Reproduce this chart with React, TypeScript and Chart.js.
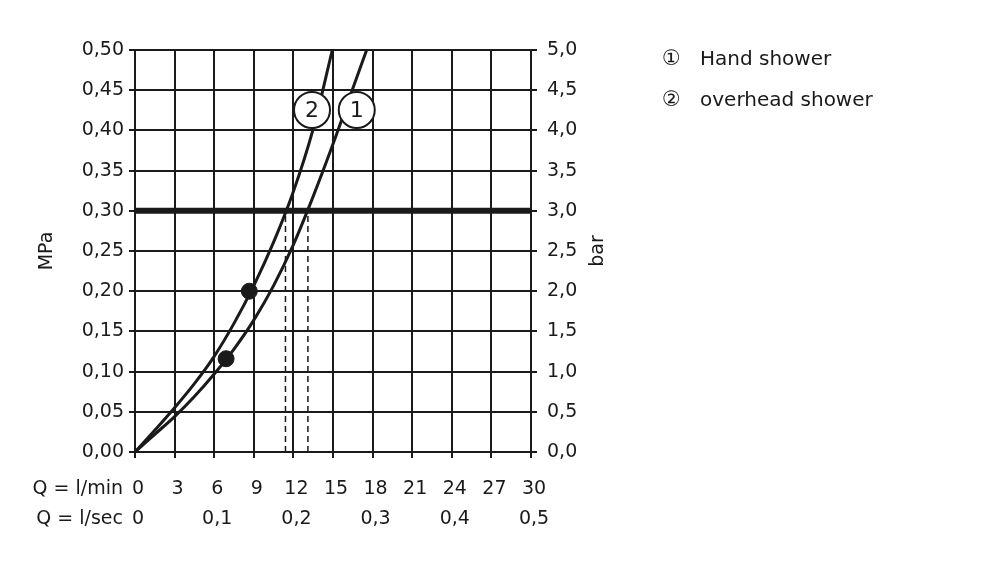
import { useEffect, useRef } from 'react';
import { Chart, registerables } from 'chart.js';

Chart.register(...registerables);

// Hand shower: flow rate (l/min) and pressure (MPa)
const handFlow = [0, 1.5, 3, 4.5, 6, 7.5, 9, 10.5, 12, 13.5, 15, 16.5, 17.55];
const handPressure = [0, 0.022, 0.044, 0.069, 0.097, 0.128, 0.164, 0.207, 0.258, 0.318, 0.383, 0.452, 0.5];

// Overhead shower: flow rate (l/min) and pressure (MPa)
const overheadFlow = [0, 1.5, 3, 4.5, 6, 7.5, 9, 10.5, 12, 13.5, 14.95];
const overheadPressure = [0, 0.027, 0.055, 0.085, 0.119, 0.16, 0.207, 0.261, 0.324, 0.402, 0.5];

// Marked operating points (flow l/min, pressure MPa)
const markFlow = [6.9, 8.66];
const markPressure = [0.116, 0.2];

// Recommended working pressure and the flows reached there
const workingPressure = 0.3;
const workingFlow = [11.4, 13.1];

// Axis ticks
const flowMinTicks = [0, 3, 6, 9, 12, 15, 18, 21, 24, 27, 30];
const flowSecTicks = [0, 0.1, 0.2, 0.3, 0.4, 0.5];
const mpaTicks = [0, 0.05, 0.1, 0.15, 0.2, 0.25, 0.3, 0.35, 0.4, 0.45, 0.5];
const barTicks = [0, 0.5, 1, 1.5, 2, 2.5, 3, 3.5, 4, 4.5, 5];

// Curve badges: number and anchor (l/min, MPa)
const badgeText = ['1', '2'];
const badgeFlow = [16.8, 13.41];
const badgePressure = [0.4254, 0.4254];

const INK = '#1a1a1a';
const FONT = '"DejaVu Sans", sans-serif';
const TICK_SIZE = 19;
const ROW1_PAD = 19.6;
const ROW2_PAD = 5.6;

const comma = (v: number, d: number) => v.toFixed(d).replace('.', ',');

const annotations = {
  id: 'showerAnnotations',
  afterDatasetsDraw(chart: any) {
    const { ctx, scales } = chart;
    const x = scales.x;
    const y = scales.y;
    ctx.save();
    badgeText.forEach((t, i) => {
      const px = x.getPixelForValue(badgeFlow[i]);
      const py = y.getPixelForValue(badgePressure[i]);
      ctx.beginPath();
      ctx.arc(px, py, 18, 0, Math.PI * 2);
      ctx.fillStyle = '#ffffff';
      ctx.fill();
      ctx.lineWidth = 2;
      ctx.strokeStyle = INK;
      ctx.stroke();
      ctx.fillStyle = INK;
      ctx.font = `22px ${FONT}`;
      ctx.textAlign = 'center';
      ctx.textBaseline = 'middle';
      ctx.fillText(t, px, py + 1);
    });
    ctx.restore();
  },
  afterDraw(chart: any) {
    const { ctx, chartArea } = chart;
    const midY = (chartArea.top + chartArea.bottom) / 2;
    const half = (TICK_SIZE * 1.2) / 2;
    ctx.save();
    ctx.fillStyle = INK;
    ctx.font = `${TICK_SIZE}px ${FONT}`;
    ctx.textAlign = 'center';
    ctx.textBaseline = 'middle';
    const vTitle = (text: string, px: number) => {
      ctx.save();
      ctx.translate(px, midY);
      ctx.rotate(-Math.PI / 2);
      ctx.fillText(text, 0, 0);
      ctx.restore();
    };
    vTitle('MPa', 47);
    vTitle('bar', chartArea.right + 67);
    // row captions of the two flow scales
    ctx.textAlign = 'right';
    const x = chart.scales.x;
    const x2 = chart.scales.x2;
    ctx.fillText('Q = l/min', chartArea.left - 12, x.top + 6 + ROW1_PAD + half);
    ctx.fillText('Q = l/sec', chartArea.left - 12, x2.top + ROW2_PAD + half);
    ctx.restore();
  },
};

export default function App() {
  const canvasRef = useRef<HTMLCanvasElement | null>(null);

  useEffect(() => {
    if (!canvasRef.current) return;
    const curve = (flows: number[], pressures: number[]) =>
      flows.map((q, i) => ({ x: q, y: pressures[i] }));
    const lineStyle = {
      borderColor: INK,
      borderWidth: 3,
      pointRadius: 0,
      cubicInterpolationMode: 'monotone' as const,
      fill: false,
    };
    const tickFont = { family: FONT, size: TICK_SIZE };

    const chart = new Chart(canvasRef.current, {
      type: 'line',
      data: {
        datasets: [
          {
            label: 'working pressure',
            data: [
              { x: 0, y: workingPressure },
              { x: 30, y: workingPressure },
            ],
            borderColor: INK,
            borderWidth: 6,
            pointRadius: 0,
          },
          ...workingFlow.map((q) => ({
            label: 'flow at working pressure',
            data: [
              { x: q, y: 0 },
              { x: q, y: workingPressure },
            ],
            borderColor: INK,
            borderWidth: 1.5,
            borderDash: [6, 4],
            pointRadius: 0,
          })),
          { label: 'Hand shower', data: curve(handFlow, handPressure), ...lineStyle },
          { label: 'overhead shower', data: curve(overheadFlow, overheadPressure), ...lineStyle },
          {
            label: 'marks',
            data: curve(markFlow, markPressure),
            showLine: false,
            pointRadius: 8,
            pointBackgroundColor: INK,
            pointBorderColor: INK,
          },
        ],
      },
      options: {
        animation: false,
        responsive: true,
        maintainAspectRatio: false,
        parsing: false as any,
        layout: { padding: { top: 50, left: 0, right: 0, bottom: 0 } },
        plugins: { legend: { display: false }, tooltip: { enabled: false } },
        scales: {
          x: {
            type: 'linear',
            position: 'bottom',
            min: 0,
            max: 30,
            afterBuildTicks: (s: any) => {
              s.ticks = flowMinTicks.map((v) => ({ value: v }));
            },
            afterFit: (s: any) => {
              s.height = 50;
            },
            ticks: {
              color: INK,
              font: tickFont,
              padding: ROW1_PAD,
              labelOffset: 3,
              maxRotation: 0,
              autoSkip: false,
              callback: (v: any) => String(v),
            },
            grid: { color: INK, lineWidth: 2, tickLength: 6 },
            border: { color: INK, width: 2 },
          },
          x2: {
            type: 'linear',
            position: 'bottom',
            min: 0,
            max: 30,
            afterBuildTicks: (s: any) => {
              s.ticks = flowSecTicks.map((v) => ({ value: v * 60 }));
            },
            afterFit: (s: any) => {
              s.height = 61;
            },
            ticks: {
              color: INK,
              font: tickFont,
              padding: ROW2_PAD,
              labelOffset: 3,
              maxRotation: 0,
              autoSkip: false,
              callback: (v: any) => (v === 0 ? '0' : comma(v / 60, 1)),
            },
            grid: { display: false, drawTicks: false },
            border: { display: false },
          },
          y: {
            type: 'linear',
            position: 'left',
            min: 0,
            max: 0.5,
            afterBuildTicks: (s: any) => {
              s.ticks = mpaTicks.map((v) => ({ value: v }));
            },
            afterFit: (s: any) => {
              s.width = 135;
            },
            ticks: {
              color: INK,
              font: tickFont,
              padding: 5,
              autoSkip: false,
              callback: (v: any) => comma(v, 2),
            },
            grid: { color: INK, lineWidth: 2, tickLength: 6 },
            border: { color: INK, width: 2 },
          },
          y2: {
            type: 'linear',
            position: 'right',
            min: 0,
            max: 5,
            afterBuildTicks: (s: any) => {
              s.ticks = barTicks.map((v) => ({ value: v }));
            },
            afterFit: (s: any) => {
              s.width = 469;
            },
            ticks: {
              color: INK,
              font: tickFont,
              padding: 10,
              autoSkip: false,
              callback: (v: any) => comma(v, 1),
            },
            grid: { color: INK, lineWidth: 2, tickLength: 6, drawOnChartArea: false },
            border: { color: INK, width: 2 },
          },
        },
      },
      plugins: [annotations],
    });
    return () => chart.destroy();
  }, []);

  const legendRow = { display: 'flex', alignItems: 'center', height: 41 } as const;
  const badge = { width: 38, fontSize: 21 } as const;

  return (
    <div
      style={{
        position: 'fixed',
        left: 0,
        top: 0,
        width: 1000,
        height: 563,
        background: '#ffffff',
      }}
    >
      <canvas ref={canvasRef} />
      <div
        style={{
          position: 'absolute',
          left: 662,
          top: 38,
          fontFamily: FONT,
          fontSize: 20,
          color: INK,
          lineHeight: '41px',
        }}
      >
        <div style={legendRow}>
          <span style={badge}>①</span>
          <span>Hand shower</span>
        </div>
        <div style={legendRow}>
          <span style={badge}>②</span>
          <span>overhead shower</span>
        </div>
      </div>
    </div>
  );
}
